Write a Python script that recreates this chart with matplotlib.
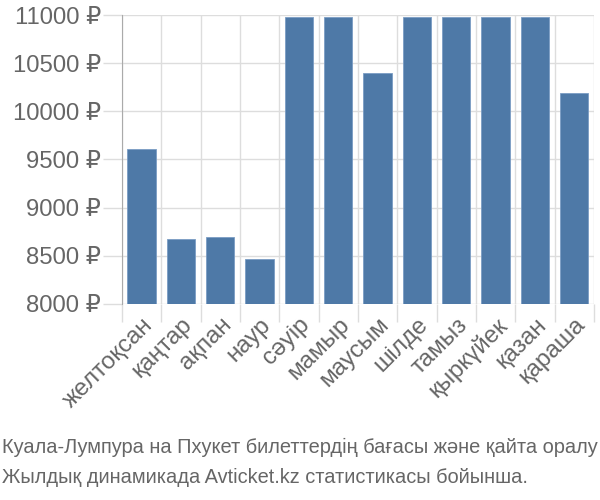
import numpy as np
import matplotlib.pyplot as plt
from matplotlib.ticker import FixedLocator

months = ['желтоқсан', 'қаңтар', 'ақпан', 'наур', 'сәуір', 'мамыр', 'маусым',
          'шілде', 'тамыз', 'қыркүйек', 'қазан', 'қараша']
prices = [9610, 8675, 8695, 8462, 10975, 10975, 10398,
          10975, 10975, 10975, 10975, 10190]
yticks = [8000, 8500, 9000, 9500, 10000, 10500, 11000]
caption = ['Куала-Лумпура на Пхукет билеттердің бағасы және қайта оралу',
           'Жылдық динамикада Avticket.kz статистикасы бойынша.']

fam = ['Liberation Sans', 'DejaVu Sans']
txt = '#666666'
grid = '#dddddd'

fig = plt.figure(figsize=(6, 5), dpi=100)
ax = fig.add_axes([0.203, 0.392, 0.787, 0.578])

x = np.arange(len(months))
ax.bar(x, prices, width=0.72, bottom=0, color='#4e79a7', edgecolor='#7a9cc4',
       linewidth=0.6, zorder=3)

ax.set_xlim(-0.5, len(months) - 0.5)
ax.set_ylim(8000, 11000)
ax.set_yticks(yticks)
ax.set_yticklabels(['%d ₽' % v for v in yticks], family=fam, fontsize=17.2, color=txt)

ax.set_xticks(x)
ax.set_xticklabels(months, rotation=45, ha='right', rotation_mode='anchor',
                   family=fam, fontsize=17.5, color=txt)
ax.tick_params(axis='x', length=0, pad=7)
ax.tick_params(axis='y', length=14, color=grid, width=1, pad=1)

# boundary grid lines between bars
ax.xaxis.set_minor_locator(FixedLocator(np.arange(-0.5, len(months), 1)))
ax.tick_params(axis='x', which='minor', length=13, color=grid, width=1)
ax.grid(axis='x', which='minor', color=grid, linewidth=1, zorder=0)
ax.grid(axis='y', which='major', color=grid, linewidth=1, zorder=0)

for s in ['top', 'right', 'bottom']:
    ax.spines[s].set_visible(False)
ax.spines['left'].set_color('#aaaaaa')
ax.spines['left'].set_bounds(8000, 11000)

fig.text(0.003, 0.105, caption[0], family=fam, fontsize=14.4, color=txt, va='center')
fig.text(0.003, 0.045, caption[1], family=fam, fontsize=14.4, color=txt, va='center')

fig.savefig('out.png', dpi=100)
